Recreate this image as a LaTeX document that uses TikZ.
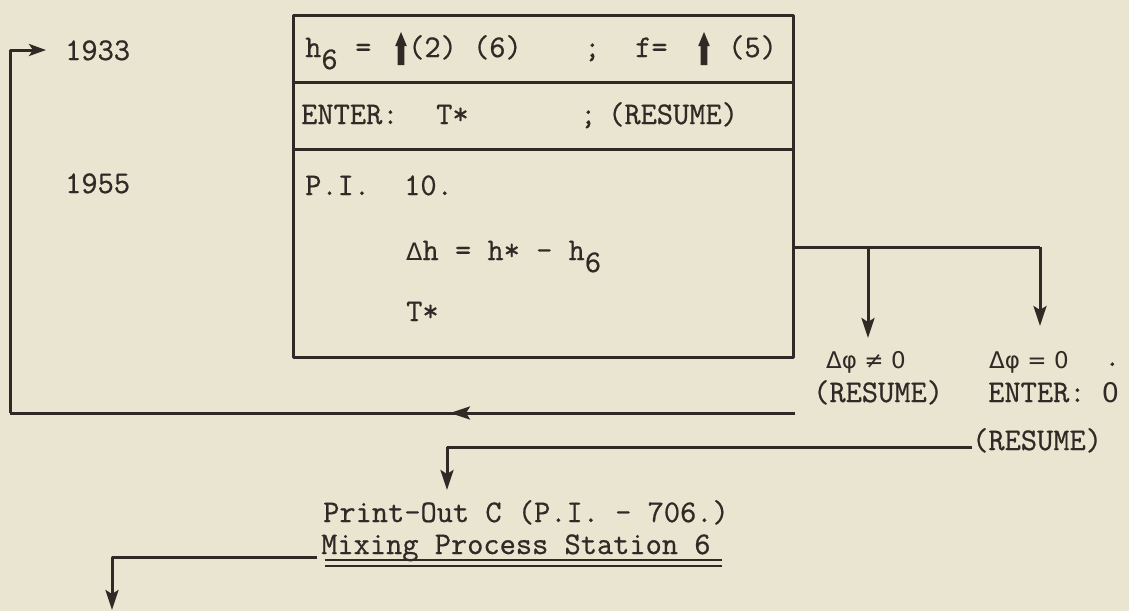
\documentclass[tikz,border=0pt]{standalone}
\usepackage{fontspec}
\newfontfamily\dvs{DejaVu Sans}
\newfontfamily\twf[FakeBold=0.7]{Latin Modern Mono}
\usetikzlibrary{arrows.meta}
\definecolor{paper}{RGB}{233,229,209}
\definecolor{ink}{RGB}{48,42,38}
\begin{document}
\begin{tikzpicture}[x=1pt,y=-1pt,line join=round,
  ln/.style={draw=ink,line width=3pt},
  arr/.style={ln,-{Stealth[length=20pt,width=13pt,inset=4pt]}},
  tw/.style={text=ink,inner sep=0pt,anchor=base west,font=\fontsize{31.5}{36}\selectfont\twf},
  gr/.style={text=ink,inner sep=0pt,anchor=base west,font=\fontsize{23}{26}\selectfont\dvs},
  row/.style={ln,rectangle,minimum width=500pt,inner sep=0pt},
  uarrow/.style={fill=ink}]
\fill[paper] (0,0) rectangle (1129,611);
\useasboundingbox (0,0) rectangle (1129,611);

% box rows
\node[row,minimum height=67pt] (r1) at (543,48.5) {};
\node[row,minimum height=67pt] (r2) at (543,115.5) {};
\node[row,minimum height=208pt] (r3) at (543,253) {};

% left labels
\node[tw] (y1933) at (65,60) {1933};
\node[tw] (y1955) at (65,193) {1955};

% row 1
\node[tw] (h6) at (305,57) {h\raisebox{-12pt}{6}};
\node[tw] (eq1) at (355,57) {=};
\node[tw] (p26) at (408,57) {(2) (6)};
\node[tw] (sc1) at (584,57) {;};
\node[tw] (feq) at (635,57) {f=};
\node[tw] (p5) at (728,57) {(5)};
\foreach \cx in {401,704}{
  \fill[uarrow] (\cx-3.4,65) -- (\cx-3.4,46) -- (\cx-5.8,46) -- (\cx,32) -- (\cx+5.8,46) -- (\cx+3.4,46) -- (\cx+3.4,65) -- cycle;
}

% row 2
\node[tw] (ent) at (301,124) {ENTER:};
\node[tw] (ts1) at (436,124) {T*};
\node[tw] (sc2) at (580,124) {;};
\node[tw] (res1) at (608,124) {(RESUME)};

% row 3
\node[tw] (pi) at (305,195) {P.I.};
\node[tw] (ten) at (404,195) {10.};
\node[tw] (dh) at (406,260) {{\fontsize{24}{26}\selectfont\dvs Δ}h = h* - h\raisebox{-12pt}{6}};
\node[tw] (ts2) at (406,321) {T*};

% right branch
\coordinate (j1) at (793,247);
\coordinate (j2) at (1040,247);
\coordinate (b1) at (868,247);
\coordinate (t1) at (868,338);
\coordinate (t2) at (1040,326);
\draw[ln] (j1) -- (j2);
\draw[arr] (b1) -- (t1);
\draw[arr] (j2) -- (t2);

\node[gr] (ne) at (826,368) {Δφ ≠ 0};
\node[gr] (eqz) at (989,368) {Δφ = 0};
\node[tw] (dot) at (1104,366) {.};
\node[tw] (res2) at (813,402) {(RESUME)};
\node[tw] (ent2) at (988,402) {ENTER: {\fontsize{27}{30}\selectfont\dvs 0}};
\node[tw] (res3) at (972,450) {(RESUME)};

% return loop
\coordinate (rs) at (795,413);
\coordinate (ma) at (450,413);
\coordinate (rc1) at (10,413);
\coordinate (rc2) at (10,50);
\coordinate (rt) at (46,50);
\draw[ln] (rs) -- (rc1);
\draw[arr] (rs) -- (ma);
\draw[arr,-{Stealth[length=17pt,width=12pt,inset=4pt]}] (rc1) -- (rc2) -- (rt);

% lower path to print-out
\coordinate (lr) at (972,447);
\coordinate (lc) at (447,447);
\coordinate (lt) at (447,490);
\draw[arr] (lr) -- (lc) -- (lt);

\node[tw] (po) at (323,522) {Print-Out C (P.I. - 706.)};
\node[tw] (mix) at (321,554) {Mixing Process Station 6};
\draw[ln,line width=1.8pt] (325,560) -- (722,560);
\draw[ln,line width=1.8pt] (325,566) -- (722,566);

% lead out
\coordinate (ls) at (317,557);
\coordinate (lc2) at (112,557);
\coordinate (lt2) at (112,610);
\draw[arr] (ls) -- (lc2) -- (lt2);
\end{tikzpicture}
\end{document}
